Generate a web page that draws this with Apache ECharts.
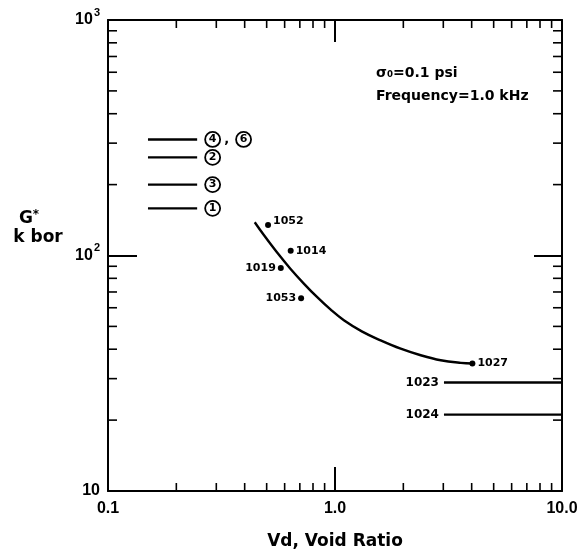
<!DOCTYPE html>
<html>
<head>
<meta charset="utf-8">
<script src="https://cdn.jsdelivr.net/npm/echarts@6/dist/echarts.min.js"></script>
<style>html,body{margin:0;padding:0;background:#fff;}#c{width:583px;height:552px;}</style>
</head>
<body>
<div id="c"></div>
<script>
// ---- data ----
const xTickLabels = ['0.1', '1.0', '10.0'];
const yTickLabels = [['10', ''], ['10', '2'], ['10', '3']];
const xMinorTicks = [0.2,0.3,0.4,0.5,0.6,0.7,0.8,0.9,2,3,4,5,6,7,8,9];
const yMinorTicks = [20,30,40,50,60,70,80,90,200,300,400,500,600,700,800,900];

const refLineX = [0.15, 0.247];
const refLineY = [311, 261, 200, 158.6];
const refLineLabels = [['4','6'], ['2'], ['3'], ['1']];

const curveX = [0.443,0.485,0.556,0.636,0.729,0.835,0.955,1.094,1.318,1.588,1.947,2.386,2.922,3.583,4.03];
const curveY = [138.4,122.4,102.9,87.9,76.0,66.5,59.0,53.1,47.5,43.6,40.2,37.7,35.9,35.0,34.8];

const sampleNames = ['1052','1014','1019','1053','1027'];
const sampleX = [0.507, 0.638, 0.577, 0.709, 4.03];
const sampleY = [134.9, 104.7, 88.4, 65.9, 34.8];

const flatNames = ['1023','1024'];
const flatX = [3.02, 10];
const flatY = [28.9, 21.1];

// ---- chart ----
const LIB = 'Liberation Sans';
const DJ = 'DejaVu Sans';
const chart = echarts.init(document.getElementById('c'));
const leftSide = {'1019': true, '1053': true};

const series = [];
refLineY.forEach((y, i) => {
  const lab = refLineLabels[i].map(n => '{c|' + n + '}').join('{k|,}');
  series.push({
    type: 'line', symbol: 'none', silent: true,
    lineStyle: {color: '#000', width: 2.4},
    data: refLineX.map(x => [x, y]),
    endLabel: {
      show: true, distance: 8, formatter: () => lab,
      rich: {
        c: {width: 15, height: 15, borderRadius: 8, borderWidth: 1.8, borderColor: '#000',
            align: 'center', fontSize: 11, fontWeight: 'bold', fontFamily: DJ, color: '#000', lineHeight: 15},
        k: {fontSize: 13, fontWeight: 'bold', fontFamily: DJ, color: '#000', padding: [0, 7, 0, 4]}
      }
    }
  });
});
series.push({
  type: 'line', symbol: 'none', smooth: 0.4, silent: true,
  lineStyle: {color: '#000', width: 2.4},
  data: curveX.map((x, i) => [x, curveY[i]])
});
series.push({
  type: 'scatter', symbol: 'circle', symbolSize: 6, silent: true,
  itemStyle: {color: '#000', opacity: 1},
  data: sampleX.map((x, i) => ({
    value: [x, sampleY[i]], name: sampleNames[i],
    label: {position: leftSide[sampleNames[i]] ? 'left' : 'right',
            offset: sampleNames[i] === '1052' ? [0, -4] : [0, 0]}
  })),
  label: {show: true, formatter: p => p.name, distance: 2, fontSize: 11, fontWeight: 'bold',
          fontFamily: DJ, color: '#000'}
});
flatY.forEach((y, i) => {
  series.push({
    type: 'line', symbol: 'none', silent: true,
    lineStyle: {color: '#000', width: 2.4},
    data: flatX.map(x => [x, y])
  });
});
series.push({
  type: 'scatter', symbolSize: 2, silent: true,
  itemStyle: {color: 'rgba(0,0,0,0)', opacity: 1},
  data: flatY.map((y, i) => ({value: [flatX[0], y], name: flatNames[i]})),
  label: {show: true, position: 'left', distance: 4, formatter: p => p.name,
          fontSize: 12, fontWeight: 'bold', fontFamily: DJ, color: '#000', opacity: 1}
});
// minor ticks (drawn through the axes' own scales)
series.push({
  type: 'custom', silent: true, z: 5,
  data: xMinorTicks.map(v => [v, 10]),
  renderItem: (params, api) => {
    const p = api.coord([api.value(0), api.value(1)]);
    const cs = params.coordSys;
    const L = 8;
    return {type: 'group', children: [
      {type: 'line', shape: {x1: p[0], y1: cs.y + cs.height, x2: p[0], y2: cs.y + cs.height - L}, style: {stroke: '#000', lineWidth: 1.6}},
      {type: 'line', shape: {x1: p[0], y1: cs.y, x2: p[0], y2: cs.y + L}, style: {stroke: '#000', lineWidth: 1.6}}
    ]};
  }
});
series.push({
  type: 'custom', silent: true, z: 5,
  data: yMinorTicks.map(v => [0.1, v]),
  renderItem: (params, api) => {
    const p = api.coord([api.value(0), api.value(1)]);
    const cs = params.coordSys;
    const L = 9;
    return {type: 'group', children: [
      {type: 'line', shape: {x1: cs.x, y1: p[1], x2: cs.x + L, y2: p[1]}, style: {stroke: '#000', lineWidth: 1.6}},
      {type: 'line', shape: {x1: cs.x + cs.width, y1: p[1], x2: cs.x + cs.width - L, y2: p[1]}, style: {stroke: '#000', lineWidth: 1.6}}
    ]};
  }
});

const axisLine = {show: true, onZero: false, lineStyle: {color: '#000', width: 2}};
const option = {
  animation: false,
  backgroundColor: '#fff',
  grid: {left: 108, right: 21, top: 20, bottom: 61, containLabel: false, outerBoundsMode: 'none'},
  xAxis: [{
    type: 'log', logBase: 10, min: 0.1, max: 10, position: 'bottom',
    axisLine, splitLine: {show: false},
    axisTick: {inside: true, length: 24, lineStyle: {color: '#000', width: 2}},
    axisLabel: {margin: 10, fontSize: 16, fontWeight: 'bold', fontFamily: LIB, color: '#000',
                formatter: v => xTickLabels[Math.round(Math.log10(v)) + 1]},
    name: 'Vd, Void Ratio', nameLocation: 'middle', nameGap: 42,
    nameTextStyle: {fontSize: 17, fontWeight: 'bold', fontFamily: DJ, color: '#000'}
  }, {
    type: 'log', logBase: 10, min: 0.1, max: 10, position: 'top',
    axisLine, splitLine: {show: false},
    axisTick: {inside: true, length: 22, lineStyle: {color: '#000', width: 2}},
    axisLabel: {show: false}
  }],
  yAxis: [{
    type: 'log', logBase: 10, min: 10, max: 1000, position: 'left',
    axisLine, splitLine: {show: false},
    axisTick: {inside: true, length: 29, lineStyle: {color: '#000', width: 2}},
    axisLabel: {margin: 8,
                formatter: v => {
                  const t = yTickLabels[Math.round(Math.log10(v)) - 1];
                  return '{b|' + t[0] + '}' + (t[1] ? '{s|' + t[1] + '}' : '');
                },
                rich: {
                  b: {fontSize: 16, fontWeight: 'bold', fontFamily: LIB, color: '#000', lineHeight: 26},
                  s: {fontSize: 11, fontWeight: 'bold', fontFamily: LIB, color: '#000', lineHeight: 11, verticalAlign: 'top', padding: [0, 0, 0, 1]}
                }}
  }, {
    type: 'log', logBase: 10, min: 10, max: 1000, position: 'right',
    axisLine, splitLine: {show: false},
    axisTick: {inside: true, length: 28, lineStyle: {color: '#000', width: 2}},
    axisLabel: {show: false}
  }],
  graphic: [{
    type: 'text', left: 376, top: 62,
    style: {text: 'σ₀=0.1 psi\nFrequency=1.0 kHz', font: 'bold 14px "DejaVu Sans"',
            fill: '#000', lineHeight: 23}
  }, {
    type: 'text', x: 29, y: 219,
    style: {text: '{g|G}{a|*}', align: 'center', verticalAlign: 'middle',
            rich: {g: {font: 'bold 17px "DejaVu Sans"', fill: '#000', lineHeight: 20},
                   a: {font: 'bold 12px "DejaVu Sans"', fill: '#000', lineHeight: 12, verticalAlign: 'top'}}}
  }, {
    type: 'text', x: 38, y: 238,
    style: {text: 'k bor', font: 'bold 17px "DejaVu Sans"', fill: '#000', align: 'center', verticalAlign: 'middle'}
  }],
  series
};
chart.setOption(option);
</script>
</body>
</html>
